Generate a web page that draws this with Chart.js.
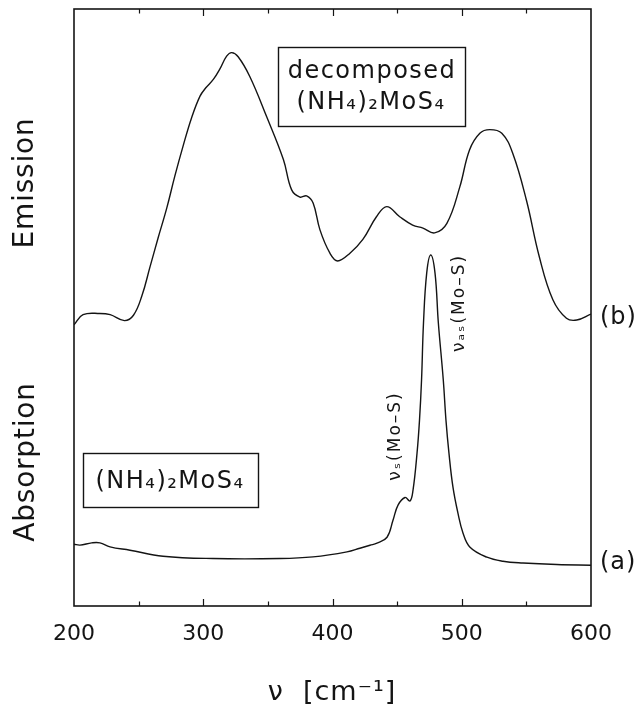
<!DOCTYPE html>
<html><head><meta charset="utf-8">
<script src="https://cdn.jsdelivr.net/npm/chart.js@4.4.1/dist/chart.umd.min.js"></script>
<style>html,body{margin:0;padding:0;background:#fff;}#wrap{width:642px;height:708px;position:relative;}</style>
</head><body><div id="wrap"><canvas id="c" width="642" height="708"></canvas></div>
<script>
// ---- data ----
const tickValues = [200, 300, 400, 500, 600];
const xTitle = 'ν  [cm⁻¹]';
const yTitles = ['Emission', 'Absorption'];
const curveLabels = ['(b)', '(a)'];
const boxTop = ['decomposed', '(NH₄)₂MoS₄'];
const boxBottom = ['(NH₄)₂MoS₄'];
const peakLabels = ['νₛ(Mo–S)', 'νₐₛ(Mo–S)'];

const emissionX = [200, 207, 220, 228, 239, 246, 252.6, 258.8, 265, 271.7, 278, 284.6, 291, 297.5, 302, 307.8, 313, 318.1, 322,
  327, 336, 349, 362, 368.4, 374.8, 380, 385, 390.3, 398, 404, 413.5, 423.5, 434, 442, 452, 462, 470, 479,
  488.5, 498.5, 506, 514, 521.7, 531, 539.5, 550, 560, 570.5, 581, 589, 600];
const emissionY = [47.1, 48.8, 49.0, 48.8, 47.8, 48.7, 52.0, 56.8, 61.6, 66.6, 72.0, 77.2, 81.8, 85.4, 86.8, 88.2, 90.0, 92.1, 92.7,
  92.0, 88.7, 82.0, 74.8, 69.7, 68.5, 68.7, 67.5, 63.0, 59.1, 57.8, 59.1, 61.4, 65.2, 66.9, 65.2, 63.8, 63.3, 62.5,
  64.1, 70.2, 76.4, 79.2, 79.8, 79.2, 75.8, 68.0, 58.5, 51.3, 48.2, 47.9, 48.9];

const absorptionX = [200, 204.6, 213.7, 220.1, 227.9, 243.3, 268.9, 307.5, 359.4, 384.9, 411.2, 421.2, 429, 434.4, 442.2,
  446.8, 450.7, 456.1, 460, 462.3, 465.4, 467.3, 468.9, 470.4, 472.9, 476, 479.3, 481.9, 485.7, 487.8, 490.1,
  493.2, 497.1, 501, 506.4, 519.5, 531.9, 547.4, 573.5, 600];
const absorptionY = [10.35, 10.2, 10.57, 10.57, 9.9, 9.34, 8.34, 7.95, 7.95, 8.22, 9.06, 9.68, 10.18, 10.52, 11.52,
  14.37, 16.9, 18.18, 17.6, 19.4, 25.6, 31.1, 37.9, 47.4, 55.8, 58.8, 55.8, 47.4, 37.9, 31.1, 25.6,
  19.9, 15.5, 12.2, 9.84, 8.17, 7.5, 7.2, 6.94, 6.83];

const INK = '#141414';
const FONT = '"DejaVu Sans", sans-serif';

function toPoints(xs, ys) { return xs.map((x, i) => ({ x: x, y: ys[i] })); }

function txt(ctx, s, x, y, size, rot, spacing, align) {
  ctx.save();
  ctx.translate(x, y);
  if (rot) ctx.rotate(rot);
  ctx.font = size + 'px ' + FONT;
  ctx.fillStyle = INK;
  ctx.textAlign = align || 'center';
  ctx.textBaseline = 'middle';
  try { ctx.letterSpacing = (spacing || 0) + 'px'; } catch (e) {}
  ctx.fillText(s, 0, 0);
  ctx.restore();
}

const decor = {
  id: 'decor',
  afterDraw(chart) {
    const ctx = chart.ctx;
    const ca = chart.chartArea;
    const xs = chart.scales.x;
    ctx.save();
    ctx.strokeStyle = INK;
    ctx.lineWidth = 1.6;
    ctx.strokeRect(ca.left, ca.top, ca.right - ca.left, ca.bottom - ca.top);
    ctx.lineWidth = 1.2;
    ctx.beginPath();
    for (let v = 250; v < 600; v += 50) {
      const px = Math.round(xs.getPixelForValue(v)) + 0.5;
      const len = (v % 100 === 0) ? 7 : 4.5;
      ctx.moveTo(px, ca.bottom); ctx.lineTo(px, ca.bottom - len);
      ctx.moveTo(px, ca.top); ctx.lineTo(px, ca.top + len);
    }
    ctx.stroke();

    // boxes
    ctx.lineWidth = 1.4;
    ctx.strokeRect(278.5, 47.5, 187, 79);
    ctx.strokeRect(83.5, 453.5, 175, 54);
    ctx.restore();

    txt(ctx, boxTop[0], 372, 72, 24, 0, 1.5);
    txt(ctx, boxTop[1], 371, 103, 24, 0, 1.5);
    txt(ctx, boxBottom[0], 170, 482, 24, 0, 1.5);

    // axis titles
    txt(ctx, yTitles[0], 26, 183, 28, -Math.PI / 2, 0.8);
    txt(ctx, yTitles[1], 27, 462, 28, -Math.PI / 2, 0.8);
    txt(ctx, xTitle, 332, 693, 27, 0, 1);

    // curve labels
    txt(ctx, curveLabels[0], 600, 318, 24, 0, 1, 'left');
    txt(ctx, curveLabels[1], 600, 563, 24, 0, 1, 'left');

    // peak labels
    txt(ctx, peakLabels[0], 396, 436, 17, -Math.PI / 2, 2);
    txt(ctx, peakLabels[1], 460, 303, 17, -Math.PI / 2, 2);
  }
};

new Chart(document.getElementById('c'), {
  type: 'line',
  data: {
    datasets: [
      { data: toPoints(emissionX, emissionY), borderColor: INK, borderWidth: 1.4, pointRadius: 0, tension: 0.4, fill: false },
      { data: toPoints(absorptionX, absorptionY), borderColor: INK, borderWidth: 1.4, pointRadius: 0, tension: 0.4, fill: false }
    ]
  },
  options: {
    responsive: false,
    animation: false,
    devicePixelRatio: 1,
    layout: { padding: { left: 74, right: 51, top: 9, bottom: 0 } },
    plugins: { legend: { display: false }, tooltip: { enabled: false }, title: { display: false } },
    scales: {
      x: {
        type: 'linear', min: 200, max: 600,
        afterBuildTicks: s => { s.ticks = tickValues.map(v => ({ value: v })); },
        afterFit: s => { s.height = 102; },
        grid: { display: false, drawTicks: false },
        border: { display: false },
        ticks: { padding: 15, autoSkip: false, maxRotation: 0, color: INK, font: { family: 'DejaVu Sans', size: 22 } }
      },
      y: { min: 0, max: 100, display: false }
    }
  },
  plugins: [decor]
});
</script>
</body></html>
